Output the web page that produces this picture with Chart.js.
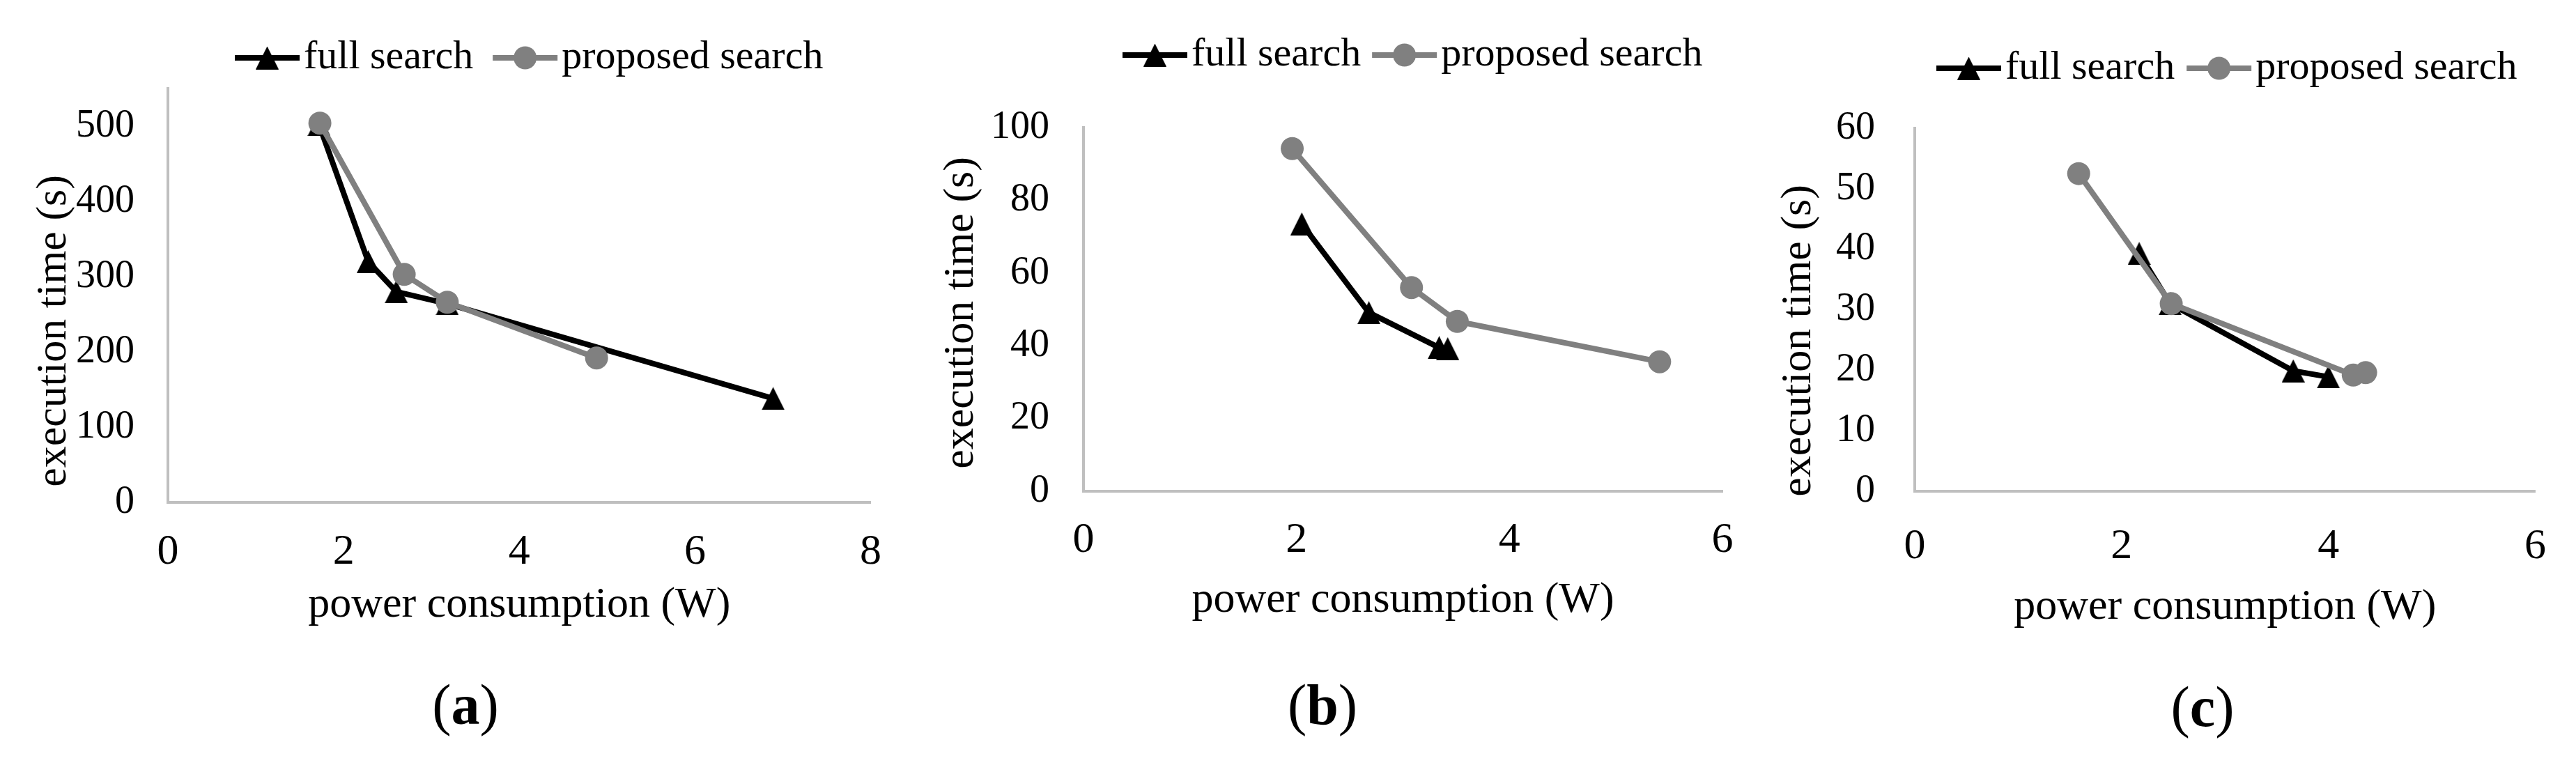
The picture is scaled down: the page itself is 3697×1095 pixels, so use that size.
<!DOCTYPE html>
<html lang="en">
<head>
  <meta charset="UTF-8" />
  <title>Execution time vs power consumption</title>
  <script src="https://cdn.jsdelivr.net/npm/chart.js"></script>
  <style>
    html, body {
      margin: 0;
      padding: 0;
      background: #fff;
    }
    body {
      width: 3697px;
      height: 1095px;
      position: relative;
      overflow: hidden;
      font-family: "Liberation Serif", "Times New Roman", serif;
    }
    .panel {
      position: absolute;
      top: 0;
      height: 1095px;
    }
    .sub {
      position: absolute;
      width: 200px;
      font-size: 82px;
      line-height: 82px;
      text-align: center;
      color: #000;
    }
  </style>
</head>
<body>
  <div class="panel" style="left:0px;width:1300px"><canvas id="chartA" width="1300" height="1095"></canvas></div>
  <div class="panel" style="left:1300px;width:1230px"><canvas id="chartB" width="1230" height="1095"></canvas></div>
  <div class="panel" style="left:2530px;width:1167px"><canvas id="chartC" width="1167" height="1095"></canvas></div>

  <script>
    // series names and panel letters
    const seriesNames = ['full search', 'proposed search'];
    const panelLetters = ['a', 'b', 'c'];
    const xTitle = 'power consumption (W)';
    const yTitle = 'execution time (s)';

    // panel (a)
    const aFullX = [1.72, 2.28, 2.60, 3.18, 6.89];
    const aFullY = [502, 320, 280, 264, 138];
    const aPropX = [1.73, 2.69, 3.18, 4.88];
    const aPropY = [504, 303, 266, 192];
    const aXTicks = [0, 2, 4, 6, 8];
    const aYTicks = [0, 100, 200, 300, 400, 500];
    const aYMax = 550;

    // panel (b)
    const bFullX = [2.05, 2.68, 3.34, 3.42];
    const bFullY = [73.5, 49.1, 39.5, 39.2];
    const bPropX = [1.96, 3.08, 3.51, 5.41];
    const bPropY = [94.2, 56.0, 46.7, 35.6];
    const bXTicks = [0, 2, 4, 6];
    const bYTicks = [0, 20, 40, 60, 80, 100];
    const bYMax = 100;

    // panel (c)
    const cFullX = [2.17, 2.47, 3.66, 4.00];
    const cFullY = [39.3, 31.0, 19.9, 18.9];
    const cPropX = [1.585, 2.48, 4.24, 4.36];
    const cPropY = [52.5, 31.0, 19.2, 19.6];
    const cXTicks = [0, 2, 4, 6];
    const cYTicks = [0, 10, 20, 30, 40, 50, 60];
    const cYMax = 60;

    const FONT = '"Liberation Serif", "Times New Roman", serif';
    const BLACK = '#000000';
    const GREY = '#808080';
    const AXIS = '#bfbfbf';

    // page-coordinate layout of each panel
    const panels = [
      { id: 'chartA', left: 0, width: 1300, plotL: 241, plotR: 1267, plotT: 127, plotB: 721,
        yTickPad: 48, xTickPad: 35, xTitleMid: 869, yTitleX: 78, yTitleY: 475,
        legendX: 337, legendY: 83, itemGap: 28, subX: 668, subY: 1018,
        full: [aFullX, aFullY], prop: [aPropX, aPropY], xTicks: aXTicks, yTicks: aYTicks, yMax: aYMax },
      { id: 'chartB', left: 1300, width: 1230, plotL: 1555, plotR: 2472, plotT: 183, plotB: 705,
        yTickPad: 49, xTickPad: 34, xTitleMid: 862, yTitleX: 1380, yTitleY: 449,
        legendX: 1611, legendY: 79, itemGap: 16, subX: 1898, subY: 1018,
        full: [bFullX, bFullY], prop: [bPropX, bPropY], xTicks: bXTicks, yTicks: bYTicks, yMax: bYMax },
      { id: 'chartC', left: 2530, width: 1167, plotL: 2748, plotR: 3653, plotT: 184, plotB: 705,
        yTickPad: 57, xTickPad: 43, xTitleMid: 872, yTitleX: 2582, yTitleY: 489,
        legendX: 2779, legendY: 98, itemGap: 17, subX: 3161, subY: 1021,
        full: [cFullX, cFullY], prop: [cPropX, cPropY], xTicks: cXTicks, yTicks: cYTicks, yMax: cYMax }
    ];

    function zip(xs, ys) {
      return xs.map((x, i) => ({ x: x, y: ys[i] }));
    }

    // Excel-style triangle marker, centred on its box
    function triangleMarker(w, h, color) {
      const c = document.createElement('canvas');
      c.width = w;
      c.height = h;
      const g = c.getContext('2d');
      g.fillStyle = color;
      g.beginPath();
      g.moveTo(w / 2, 0);
      g.lineTo(w, h);
      g.lineTo(0, h);
      g.closePath();
      g.fill();
      return c;
    }
    const tri = triangleMarker(33, 33, BLACK);

    // legend (line + marker) and rotated y title
    const decor = {
      id: 'decor',
      afterDraw(chart, args, opts) {
        const ctx = chart.ctx;
        ctx.save();
        ctx.fillStyle = BLACK;
        ctx.textBaseline = 'middle';

        ctx.font = '62px ' + FONT;
        ctx.save();
        ctx.translate(opts.yTitleX, opts.yTitleY);
        ctx.rotate(-Math.PI / 2);
        ctx.textAlign = 'center';
        ctx.fillText(yTitle, 0, 0);
        ctx.restore();

        ctx.font = '58px ' + FONT;
        ctx.textAlign = 'left';
        let x = opts.legendX;
        const y = opts.legendY;
        const lineLen = 93;
        chart.data.datasets.forEach(ds => {
          ctx.strokeStyle = ds.borderColor;
          ctx.lineWidth = ds.borderWidth;
          ctx.beginPath();
          ctx.moveTo(x, y);
          ctx.lineTo(x + lineLen, y);
          ctx.stroke();
          const cx = x + lineLen / 2;
          if (ds.pointStyle === 'circle') {
            ctx.fillStyle = ds.backgroundColor;
            ctx.beginPath();
            ctx.arc(cx, y, ds.pointRadius, 0, Math.PI * 2);
            ctx.fill();
          } else {
            ctx.drawImage(ds.pointStyle, cx - ds.pointStyle.width / 2, y - ds.pointStyle.height / 2);
          }
          ctx.fillStyle = BLACK;
          const tx = x + lineLen + 6;
          ctx.fillText(ds.label, tx, y);
          x = tx + ctx.measureText(ds.label).width + opts.itemGap;
        });
        ctx.restore();
      }
    };

    panels.forEach((p, k) => {
      const xt = p.xTicks;
      const yt = p.yTicks;
      new Chart(document.getElementById(p.id), {
        type: 'scatter',
        data: {
          datasets: [
            {
              label: seriesNames[0],
              data: zip(p.full[0], p.full[1]),
              showLine: true,
              borderColor: BLACK,
              backgroundColor: BLACK,
              borderWidth: 8,
              borderJoinStyle: 'round',
              pointStyle: tri,
              pointRadius: 17,
              pointBorderWidth: 0,
              order: 1
            },
            {
              label: seriesNames[1],
              data: zip(p.prop[0], p.prop[1]),
              showLine: true,
              borderColor: GREY,
              backgroundColor: GREY,
              borderWidth: 8,
              borderJoinStyle: 'round',
              pointStyle: 'circle',
              pointRadius: 16.5,
              pointBorderWidth: 0,
              order: 0
            }
          ]
        },
        options: {
          responsive: false,
          animation: false,
          layout: {
            padding: { left: 0, top: p.plotT, right: p.left + p.width - p.plotR, bottom: 0 }
          },
          scales: {
            x: {
              type: 'linear',
              min: xt[0],
              max: xt[xt.length - 1],
              afterBuildTicks: s => { s.ticks = xt.map(v => ({ value: v })); },
              afterFit: s => { s.height = 1095 - p.plotB; },
              grid: { display: false, drawTicks: false },
              border: { display: true, color: AXIS, width: 4 },
              ticks: {
                padding: p.xTickPad,
                color: BLACK,
                autoSkip: false,
                maxRotation: 0,
                font: { family: FONT, size: 62, lineHeight: 1.2 }
              },
              title: {
                display: true,
                text: xTitle,
                color: BLACK,
                font: { family: FONT, size: 62, lineHeight: 1.2 },
                padding: { top: 0, bottom: 1095 - 37.2 - p.xTitleMid }
              }
            },
            y: {
              type: 'linear',
              min: yt[0],
              max: p.yMax,
              afterBuildTicks: s => { s.ticks = yt.map(v => ({ value: v })); },
              afterFit: s => { s.width = p.plotL - p.left; },
              grid: { display: false, drawTicks: false },
              border: { display: true, color: AXIS, width: 4 },
              ticks: {
                padding: p.yTickPad,
                color: BLACK,
                autoSkip: false,
                font: { family: FONT, size: 56, lineHeight: 1.2 }
              }
            }
          },
          plugins: {
            legend: { display: false },
            tooltip: { enabled: false },
            decor: {
              yTitleX: p.yTitleX - p.left,
              yTitleY: p.yTitleY,
              legendX: p.legendX - p.left,
              legendY: p.legendY,
              itemGap: p.itemGap
            }
          }
        },
        plugins: [decor]
      });

      const sub = document.createElement('div');
      sub.className = 'sub';
      sub.style.left = (p.subX - 100) + 'px';
      sub.style.top = (p.subY - 47) + 'px';
      sub.innerHTML = '(<b>' + panelLetters[k] + '</b>)';
      document.body.appendChild(sub);
    });
  </script>
</body>
</html>
